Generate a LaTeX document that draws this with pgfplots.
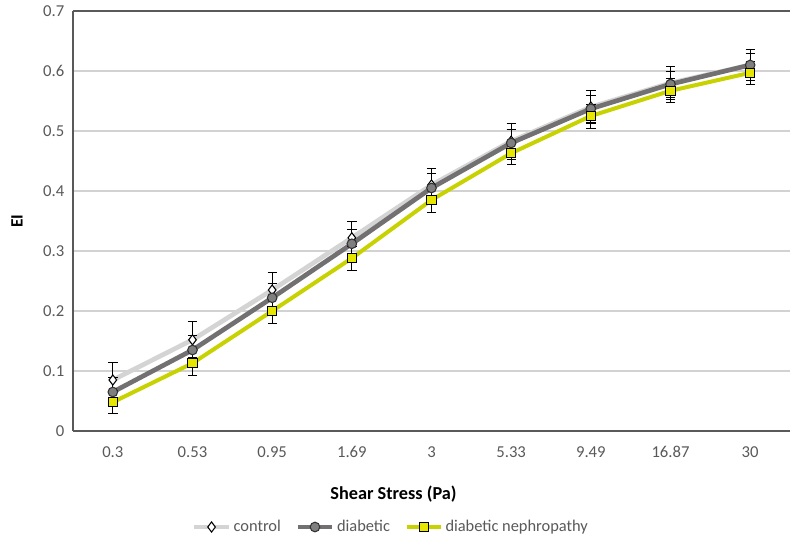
\documentclass[border=0pt]{standalone}
\usepackage{pgfplots}
\pgfplotsset{compat=1.18}
\usepackage{fontspec}
\setmainfont{Carlito}
\definecolor{ctrl}{HTML}{D4D4D4}
\definecolor{diab}{HTML}{727070}
\definecolor{diabfill}{HTML}{7F7F7F}
\definecolor{neph}{HTML}{C8D200}
\definecolor{nephfill}{HTML}{E6E600}
\definecolor{ticktxt}{HTML}{595959}
\definecolor{axln}{HTML}{595959}
\begin{document}
\begin{tikzpicture}
\begin{axis}[scale only axis,width=537.75pt,height=315pt,
  xmin=-0.5,xmax=8.5,ymin=0,ymax=0.7,
  xtick={0,...,8},xticklabels={0.3,0.53,0.95,1.69,3,5.33,9.49,16.87,30},
  ytick={0,0.1,...,0.6},
  extra y ticks={0.7},extra y tick style={grid style={axln,line width=0.8pt}},
  yticklabel style={xshift=-3pt,/pgf/number format/fixed},
  /pgf/number format/assume math mode=true,
  every tick label/.append style={font=\fontsize{12.5}{14}\selectfont,text=ticktxt},
  major tick length=0pt,
  xticklabel style={yshift=-8pt},
  axis x line*=bottom,axis y line*=left,
  axis line style={axln,line width=0.8pt},
  ymajorgrids,grid style={gray!35,line width=0.8pt},
  xlabel={\textbf{Shear Stress (Pa)}},
  xlabel style={at={(axis description cs:0.447,0)},anchor=center,yshift=-47pt,font=\fontsize{13.7}{15}\selectfont},
  ylabel={\textbf{EI}},
  ylabel style={at={(axis description cs:0,0.5)},anchor=center,rotate=0,yshift=42pt,font=\fontsize{13}{15}\selectfont},
  legend columns=3,
  legend style={at={(axis description cs:0.444,0)},anchor=center,yshift=-72pt,draw=none,
    font=\fontsize{12.3}{14}\selectfont,text=ticktxt,
    /tikz/every even column/.append style={column sep=9pt}},
  legend image code/.code={\draw[mark repeat=2,mark phase=2] plot coordinates {(0cm,0cm)(0.45cm,0cm)(0.9cm,0cm)};},
  error bars/y dir=both,error bars/y explicit,
  error bars/error bar style={black,line width=0.7pt},
  error bars/error mark options={rotate=90,mark size=3.5pt,black,line width=0.7pt},
]
\addplot[ctrl,line width=3.5pt,mark=diamond*,mark size=3.8pt,
  mark options={fill=white,draw=black,line width=0.8pt}]
  coordinates {(0,0.085) +- (0,0.03) (1,0.152) +- (0,0.03) (2,0.235) +- (0,0.03)
  (3,0.322) +- (0,0.028) (4,0.41) +- (0,0.028) (5,0.483) +- (0,0.03)
  (6,0.54) +- (0,0.027) (7,0.58) +- (0,0.027) (8,0.61) +- (0,0.026)};
\addlegendentry{control}
\addplot[diab,line width=3.5pt,mark=*,mark size=3.6pt,
  mark options={fill=diabfill,draw=black!80,line width=0.8pt}]
  coordinates {(0,0.065) +- (0,0.024) (1,0.135) +- (0,0.024) (2,0.222) +- (0,0.024)
  (3,0.312) +- (0,0.024) (4,0.405) +- (0,0.024) (5,0.48) +- (0,0.022)
  (6,0.537) +- (0,0.022) (7,0.578) +- (0,0.022) (8,0.61) +- (0,0.02)};
\addlegendentry{diabetic}
\addplot[neph,line width=3pt,mark=square*,mark size=3.5pt,
  mark options={fill=nephfill,draw=black,line width=0.8pt}]
  coordinates {(0,0.048) +- (0,0.019) (1,0.113) +- (0,0.02) (2,0.2) +- (0,0.02)
  (3,0.288) +- (0,0.02) (4,0.385) +- (0,0.02) (5,0.463) +- (0,0.018)
  (6,0.525) +- (0,0.02) (7,0.567) +- (0,0.02) (8,0.597) +- (0,0.019)};
\addlegendentry{diabetic nephropathy}
\end{axis}
\pgfresetboundingbox
\path[use as bounding box] ([shift={(-54.75pt,-82.5pt)}]current axis.south west) rectangle ([shift={(1.5pt,8.25pt)}]current axis.north east);
\end{tikzpicture}
\end{document}
